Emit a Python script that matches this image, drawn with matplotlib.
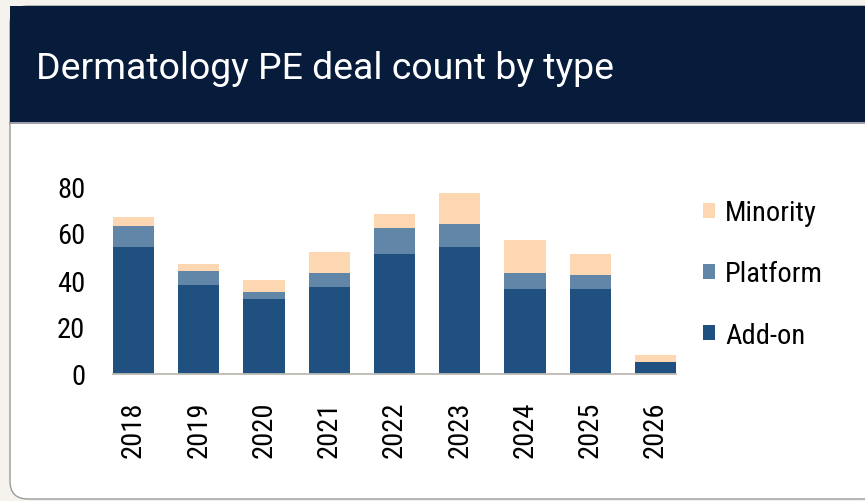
import matplotlib
matplotlib.use('Agg')
import matplotlib.pyplot as plt
import numpy as np
from matplotlib import font_manager
from matplotlib.patches import FancyBboxPatch, Rectangle

# Data
years = ['2018', '2019', '2020', '2021', '2022', '2023', '2024', '2025', '2026']
addon = [54, 38, 32, 37, 51, 54, 36, 36, 5]
platform = [9, 6, 3, 6, 11, 10, 7, 6, 0]
minority = [4, 3, 5, 9, 6, 13, 14, 9, 3]

c_addon = '#1F5080'
c_platform = '#6286A8'
c_minority = '#FDD7B1'
navy = '#061C3A'
beige = '#F6F3EE'

nfont = 'Roboto Condensed'

W, H = 865, 502
fig = plt.figure(figsize=(W / 100, H / 100), dpi=100, facecolor=beige)

# background card, drawn in pixel coordinates
bg = fig.add_axes([0, 0, 1, 1], zorder=-1)
bg.set_xlim(0, W)
bg.set_ylim(H, 0)
bg.axis('off')
bg.add_patch(FancyBboxPatch((10, 7), 870, 493, boxstyle='round,pad=0,rounding_size=18',
                            facecolor='white', edgecolor='#9A9A9A', linewidth=1))
bg.add_patch(Rectangle((10, 7), 870, 116, facecolor=navy, edgecolor='none'))
bg.plot([10, W], [123.5, 123.5], color='#8E8E9C', linewidth=1.2)

fig.text(36 / W, 1 - 79 / H, 'Dermatology PE deal count by type', color='white',
         fontsize=26.9, family='Roboto', va='baseline', ha='left')

ax = fig.add_axes([113 / W, (H - 375) / H, 563 / W, 188 / H])
ax.patch.set_alpha(0)
x = np.arange(len(years))
bw = 0.63
b1 = ax.bar(x, addon, bw, color=c_addon, label='Add-on')
b2 = ax.bar(x, platform, bw, bottom=addon, color=c_platform, label='Platform')
bottom2 = [a + p for a, p in zip(addon, platform)]
b3 = ax.bar(x, minority, bw, bottom=bottom2, color=c_minority, label='Minority')

ax.set_xlim(-0.315, 8.315)
ax.set_ylim(0, 80)
for s in ['top', 'right', 'left']:
    ax.spines[s].set_visible(False)
ax.spines['bottom'].set_color('#BDBAB5')
ax.spines['bottom'].set_linewidth(1.3)
ax.set_yticks([0, 20, 40, 60, 80])
ax.set_xticks(x)
ax.set_xticklabels(years, rotation=90, va='top', ha='center')
ax.tick_params(axis='y', length=0, pad=20)
ax.tick_params(axis='x', length=0, pad=19)
for lab in ax.get_yticklabels() + ax.get_xticklabels():
    lab.set_fontproperties(font_manager.FontProperties(family=nfont, size=20.5))

ax.legend(handles=[b3, b2, b1], loc='center left',
          bbox_to_anchor=(703 / W, 1 - 275 / H), bbox_transform=fig.transFigure,
          frameon=False, borderpad=0, borderaxespad=0,
          handlelength=0.42, handleheight=0.42, handletextpad=0.35,
          labelspacing=1.2, prop=font_manager.FontProperties(family=nfont, size=20.5))

fig.savefig('out.png', dpi=100, facecolor=beige)
